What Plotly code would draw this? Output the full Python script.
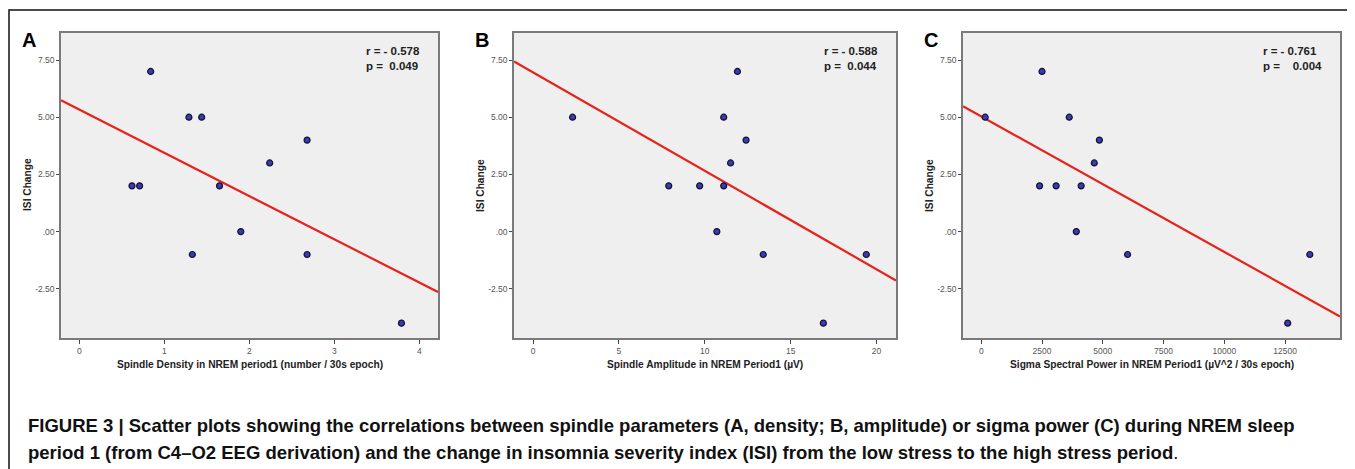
import numpy as np
import plotly.graph_objects as go

# ---- data ----
density = [0.62, 0.71, 0.84, 1.29, 1.44, 1.65, 2.24, 2.68, 1.33, 1.90, 2.68, 3.79]
isi_a = [2, 2, 7, 5, 5, 2, 3, 4, -1, 0, -1, -4]

amplitude = [2.3, 11.9, 11.1, 12.4, 11.5, 7.9, 9.7, 11.1, 10.7, 13.4, 19.4, 16.9]
isi_b = [5, 7, 5, 4, 3, 2, 2, 2, 0, -1, -1, -4]

sigma = [160, 2500, 3620, 4860, 4650, 2400, 3080, 4110, 3910, 6020, 13520, 12610]
isi_c = [5, 7, 5, 4, 3, 2, 2, 2, 0, -1, -1, -4]

y_tickvals = [7.5, 5.0, 2.5, 0.0, -2.5]
y_ticktext = ["7.50", "5.00", "2.50", ".00", "-2.50"]

xt_a = [0, 1, 2, 3, 4]
xt_b = [0, 5, 10, 15, 20]
xt_c = [0, 2500, 5000, 7500, 10000, 12500]

x_titles = ["Spindle Density in NREM period1 (number / 30s epoch)",
            "Spindle Amplitude in NREM Period1 (µV)",
            "Sigma Spectral Power in NREM Period1 (µV^2 / 30s epoch)"]
panel_labels = ["A", "B", "C"]
r_text = ["r = - 0.578", "r = - 0.588", "r = - 0.761"]
p_text = ["p =  0.049", "p =  0.044", "p =    0.004"]

caption_line1 = ("FIGURE 3 | Scatter plots showing the correlations between spindle parameters "
                 "(A, density; B, amplitude) or sigma power (C) during NREM sleep")
caption_line2 = ("period 1 (from C4–O2 EEG derivation) and the change in insomnia severity index "
                 "(ISI) from the low stress to the high stress period")

# ---- layout geometry (page body has an 8px margin) ----
OFF = 8
W, H = 1355 - OFF, 469 - OFF
px = lambda v: (v - OFF) / W
py = lambda v: 1 - (v - OFF) / H

x_domains = [(61, 438), (514, 896), (963, 1340)]
y_dom = (338, 33)
x_ranges = [(-0.215, 4.22), (-1.11, 21.13), (-752, 14762)]
y_range = (-4.65, 8.68)

FONT = "Liberation Sans, Arial, Helvetica, sans-serif"

fig = go.Figure()

datasets = [(density, isi_a, xt_a), (amplitude, isi_b, xt_b), (sigma, isi_c, xt_c)]
for i, (xs, ys, xt) in enumerate(datasets):
    n = "" if i == 0 else str(i + 1)
    xa, ya = "x" + n, "y" + n
    slope, icpt = np.polyfit(xs, ys, 1)
    lx = np.array(x_ranges[i], dtype=float)
    fig.add_trace(go.Scatter(x=lx, y=slope * lx + icpt, mode="lines",
                             line=dict(color="#e8211d", width=2.2),
                             xaxis=xa, yaxis=ya, showlegend=False, hoverinfo="skip"))
    fig.add_trace(go.Scatter(x=xs, y=ys, mode="markers",
                             marker=dict(size=6, color="#3b3bb0",
                                         line=dict(color="#111133", width=1.2)),
                             xaxis=xa, yaxis=ya, showlegend=False))
    d0, d1 = x_domains[i]
    fig.layout["xaxis" + n] = dict(
        domain=[px(d0), px(d1)], range=list(x_ranges[i]), anchor=ya,
        showgrid=False, zeroline=False, showline=True, mirror=True,
        linecolor="#7a7a7a", linewidth=1.5,
        tickmode="array", tickvals=xt, ticktext=[str(v) for v in xt],
        ticks="outside", ticklen=4, tickcolor="#444", tickwidth=1,
        tickfont=dict(family=FONT, size=8.5, color="#555"))
    fig.layout["yaxis" + n] = dict(
        domain=[py(y_dom[0]), py(y_dom[1])], range=list(y_range), anchor=xa,
        showgrid=False, zeroline=False, showline=True, mirror=True,
        linecolor="#7a7a7a", linewidth=1.5,
        tickmode="array", tickvals=y_tickvals, ticktext=y_ticktext,
        ticks="outside", ticklen=3, tickcolor="#444", tickwidth=1,
        tickfont=dict(family=FONT, size=8.5, color="#555"))

    # axis titles
    fig.add_annotation(x=px((d0 + d1) / 2), y=py(364), xref="paper", yref="paper",
                       text="<b>" + x_titles[i] + "</b>", showarrow=False,
                       font=dict(family=FONT, size=10.2, color="#222"),
                       xanchor="center", yanchor="middle")
    fig.add_annotation(x=px(d0 - 34), y=py(185), xref="paper", yref="paper",
                       text="<b>ISI Change</b>", textangle=-90, showarrow=False,
                       font=dict(family=FONT, size=10.2, color="#222"),
                       xanchor="center", yanchor="middle")
    # panel letter
    fig.add_annotation(x=px(d0 - 41), y=py(40), xref="paper", yref="paper",
                       text="<b>" + panel_labels[i] + "</b>", showarrow=False,
                       font=dict(family=FONT, size=20, color="#000"),
                       xanchor="left", yanchor="middle")
    # r / p
    txt = "<b>" + r_text[i].replace(" ", "\u00a0") + "<br>" + p_text[i].replace(" ", "\u00a0") + "</b>"
    fig.add_annotation(x=px(d1 - 16), y=py(43), xref="paper", yref="paper",
                       text=txt, showarrow=False, align="left",
                       font=dict(family=FONT, size=11.5, color="#222"),
                       xanchor="right", yanchor="top")

# caption (two lines)
fig.add_annotation(x=px(26), y=py(425), xref="paper", yref="paper",
                   text="<b>" + caption_line1 + "</b>", showarrow=False, align="left",
                   font=dict(family=FONT, size=18.5, color="#111"),
                   xanchor="left", yanchor="middle")
fig.add_annotation(x=px(26), y=py(452), xref="paper", yref="paper",
                   text="<b>" + caption_line2 + "</b>.", showarrow=False, align="left",
                   font=dict(family=FONT, size=18.5, color="#111"),
                   xanchor="left", yanchor="middle")

# outer frame
fig.add_shape(type="rect", xref="paper", yref="paper",
              x0=px(9), x1=px(1352), y0=py(490), y1=py(10),
              line=dict(color="#111", width=1.5), fillcolor="rgba(0,0,0,0)", layer="below")

fig.update_layout(width=W, height=H, margin=dict(l=0, r=0, t=0, b=0),
                  paper_bgcolor="white", plot_bgcolor="#efefef",
                  showlegend=False)

fig.write_html("out.html")
